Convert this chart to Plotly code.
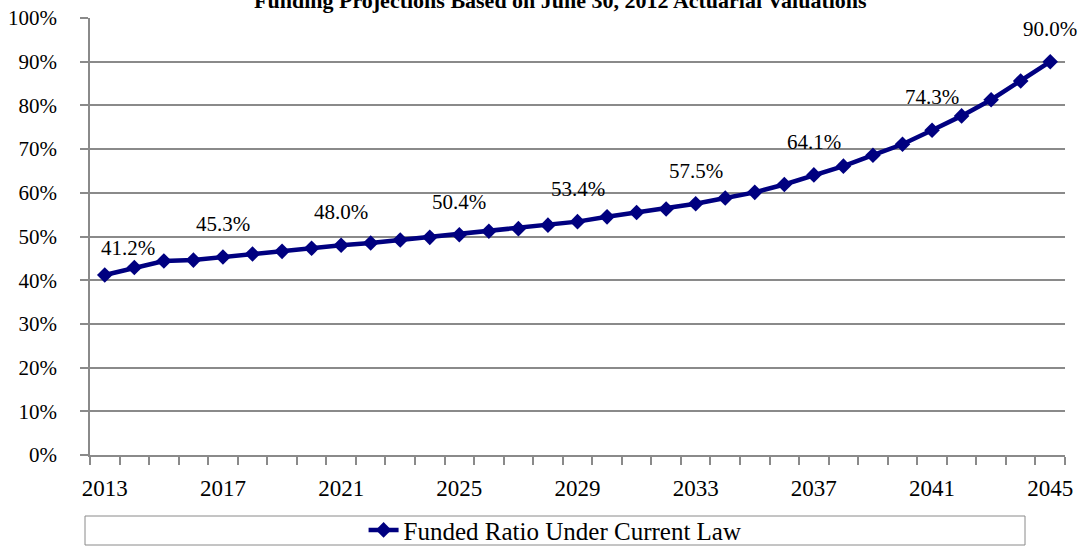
import plotly.graph_objects as go

years = list(range(2013, 2046))
funded_ratio = [41.2, 42.9, 44.4, 44.6, 45.3, 46.0, 46.6, 47.3, 48.0, 48.5,
                49.2, 49.8, 50.4, 51.2, 51.8, 52.6, 53.4, 54.5, 55.5, 56.3,
                57.5, 58.8, 60.1, 61.9, 64.1, 66.1, 68.6, 71.1, 74.3, 77.6,
                81.3, 85.6, 90.0]
label_years = [2013, 2017, 2021, 2025, 2029, 2033, 2037, 2041, 2045]
y_ticks = [0, 10, 20, 30, 40, 50, 60, 70, 80, 90, 100]
series_name = "Funded Ratio Under Current Law"
title_text = "Funding Projections Based on June 30, 2012 Actuarial Valuations"

NAVY = "#000080"
GRAY = "#8a8a8a"
FONT = "Liberation Serif"

fig = go.Figure()
fig.add_trace(go.Scatter(
    x=years, y=funded_ratio, mode="lines+markers", name=series_name,
    line=dict(color=NAVY, width=4.5),
    marker=dict(symbol="diamond", size=12, color=NAVY),
    hoverinfo="x+y",
))

annotations = []
for yr, v in zip(years, funded_ratio):
    if yr in label_years:
        first = yr == years[0]
        annotations.append(dict(
            x=yr, y=v, xref="x", yref="y", text=f"{v:.1f}%", showarrow=False,
            xshift=23 if first else 0, yshift=27 if first else 33,
            font=dict(family=FONT, size=21, color="black"),
        ))

annotations.append(dict(
    x=0.483, y=1.008, xref="paper", yref="paper", xanchor="center", yanchor="bottom",
    text="<b>" + title_text + "</b>", showarrow=False,
    font=dict(family=FONT, size=22, color="black"),
))

fig.update_layout(
    width=1086, height=546,
    margin=dict(l=90, r=21, t=18, b=91, autoexpand=False),
    paper_bgcolor="white", plot_bgcolor="white",
    font=dict(family=FONT, size=21, color="black"),
    showlegend=True,
    legend=dict(
        orientation="h", x=0.477, y=-0.172, xanchor="center", yanchor="middle",
        font=dict(family=FONT, size=25, color="black"), bgcolor="rgba(0,0,0,0)",
    ),
    annotations=annotations,
    shapes=[dict(type="rect", xref="paper", yref="paper",
                 x0=(85 - 90) / 975, x1=(1025 - 90) / 975,
                 y0=(455 - 516) / 437, y1=(455 - 545) / 437,
                 line=dict(color=GRAY, width=1), fillcolor="rgba(0,0,0,0)")],
    xaxis=dict(
        range=[years[0] - 0.5, years[-1] + 0.5], automargin=False,
        tickmode="array", tickvals=label_years, ticktext=[str(y) for y in label_years],
        ticks="", showgrid=False, zeroline=False,
        showline=True, linecolor=GRAY, linewidth=1.5,
        tickfont=dict(family=FONT, size=23, color="black"),
        ticklabelstandoff=12,
        minor=dict(tickmode="linear", tick0=years[0] - 0.5, dtick=1,
                   ticks="outside", ticklen=8, tickcolor=GRAY, tickwidth=1.5,
                   showgrid=False),
    ),
    yaxis=dict(
        range=[0, 100], tickmode="array", tickvals=y_ticks, automargin=False,
        ticktext=[f"{t}%" for t in y_ticks],
        ticks="outside", ticklen=8, tickcolor=GRAY, tickwidth=1.5,
        showgrid=True, gridcolor=GRAY, gridwidth=1.5, zeroline=False,
        showline=True, linecolor=GRAY, linewidth=1.5,
        tickfont=dict(family=FONT, size=21, color="black"),
        ticklabelstandoff=19,
    ),
)

fig.write_html(
    "out.html",
    config={"displayModeBar": False},
    post_script="document.body.style.margin='0';document.body.style.overflow='hidden';",
)
